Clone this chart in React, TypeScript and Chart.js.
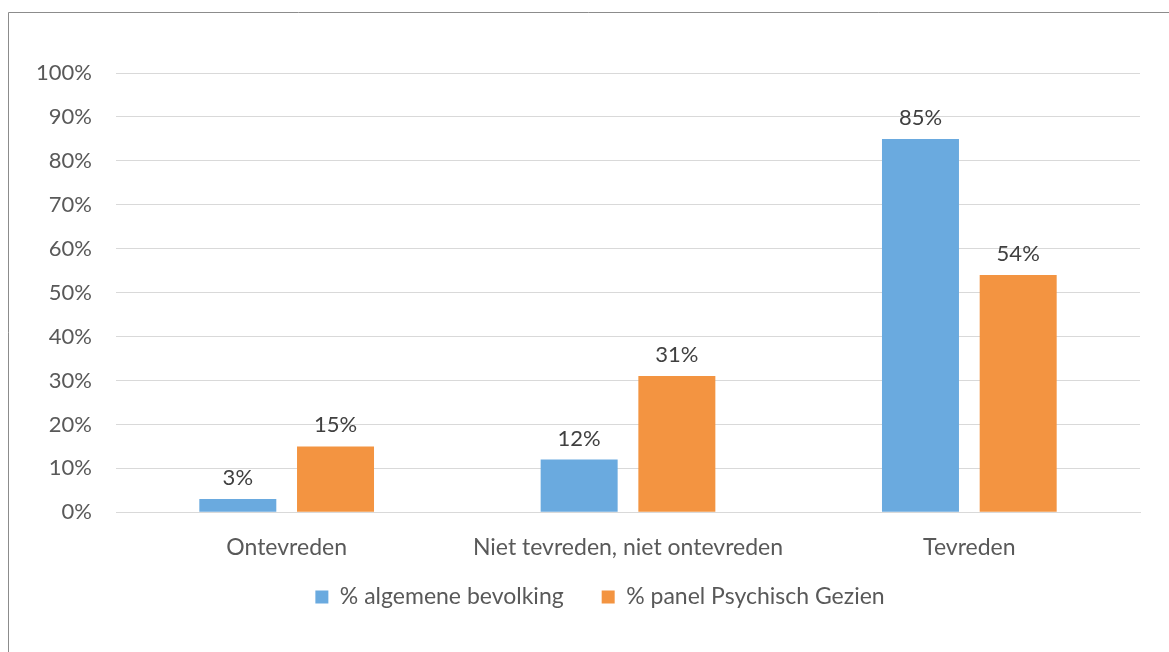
import React, { useEffect, useRef } from "react";
import { Chart, registerables } from "chart.js";

Chart.register(...registerables);

const categories = ["Ontevreden", "Niet tevreden, niet ontevreden", "Tevreden"];
const seriesNames = ["% algemene bevolking", "% panel Psychisch Gezien"];
const algemeneBevolking = [3, 12, 85];
const panelPsychischGezien = [15, 31, 54];
const yTickValues = [0, 10, 20, 30, 40, 50, 60, 70, 80, 90, 100];

const FONT = "Lato, 'Open Sans', sans-serif";
const TEXT_SIZE = 23;
const NUM_SIZE = 22;

const frame = {
  id: "frame",
  beforeDraw(chart: any) {
    const ctx = chart.ctx;
    ctx.save();
    ctx.fillStyle = "#ffffff";
    ctx.fillRect(0, 0, chart.width, chart.height);
    ctx.strokeStyle = "#8c8c8c";
    ctx.lineWidth = 1;
    ctx.beginPath();
    ctx.moveTo(8.5, chart.height);
    ctx.lineTo(8.5, 12.5);
    ctx.lineTo(chart.width, 12.5);
    ctx.stroke();
    ctx.restore();
  },
};

const legendShift = {
  id: "legendShift",
  afterLayout(chart: any) {
    const lg = chart.legend;
    if (lg) {
      const h = lg.height;
      lg.left = 60;
      lg.right = 1140;
      lg.top = 547.5;
      lg.bottom = 547.5 + h;
    }
  },
};

const valueLabels = {
  id: "valueLabels",
  afterDatasetsDraw(chart: any) {
    const ctx = chart.ctx;
    ctx.save();
    ctx.font = `${NUM_SIZE}px ${FONT}`;
    ctx.fillStyle = "#404040";
    ctx.textAlign = "center";
    ctx.textBaseline = "alphabetic";
    chart.data.datasets.forEach((ds: any, i: number) => {
      const meta = chart.getDatasetMeta(i);
      meta.data.forEach((bar: any, j: number) => {
        ctx.fillText(`${ds.data[j]}%`, bar.x, bar.y - 14);
      });
    });
    ctx.restore();
  },
};

export default function App() {
  const ref = useRef<HTMLCanvasElement | null>(null);
  useEffect(() => {
    if (!ref.current) return;
    const chart = new Chart(ref.current, {
      type: "bar",
      data: {
        labels: categories,
        datasets: [
          {
            label: seriesNames[0],
            data: algemeneBevolking,
            backgroundColor: "#6aaadf",
            categoryPercentage: 0.5725,
            barPercentage: 0.788,
          },
          {
            label: seriesNames[1],
            data: panelPsychischGezien,
            backgroundColor: "#f39441",
            categoryPercentage: 0.5725,
            barPercentage: 0.788,
          },
        ],
      },
      plugins: [frame, legendShift, valueLabels],
      options: {
        animation: false,
        responsive: false,
        maintainAspectRatio: false,
        layout: { padding: { left: 0, right: 29, top: 73, bottom: 16.7 } },
        plugins: {
          tooltip: { enabled: false },
          legend: {
            position: "bottom",
            labels: {
              boxWidth: 13,
              boxHeight: 13,
              padding: 38,
              color: "#595959",
              font: { family: FONT, size: TEXT_SIZE },
            },
          },
        },
        scales: {
          x: {
            grid: { display: false, drawTicks: false },
            border: { display: true, color: "#d9d9d9", width: 1 },
            ticks: {
              color: "#595959",
              font: { family: FONT, size: TEXT_SIZE },
              padding: 21,
              maxRotation: 0,
              autoSkip: false,
            },
            afterFit(scale: any) {
              scale.height = 52;
            },
          },
          y: {
            min: 0,
            max: 100,
            afterBuildTicks(scale: any) {
              scale.ticks = yTickValues.map((v) => ({ value: v }));
            },
            grid: { color: "#d9d9d9", lineWidth: 1, drawTicks: false },
            border: { display: false },
            ticks: {
              color: "#595959",
              font: { family: FONT, size: NUM_SIZE },
              padding: 24,
              callback: (v: any) => `${v}%`,
            },
            afterFit(scale: any) {
              scale.width = 116;
            },
          },
        },
      },
    });
    return () => chart.destroy();
  }, []);
  return (
    <div style={{ position: "fixed", left: 0, top: 0, width: 1169, height: 652, background: "#fff" }}>
      <canvas ref={ref} width={1169} height={652} style={{ display: "block" }} />
    </div>
  );
}
